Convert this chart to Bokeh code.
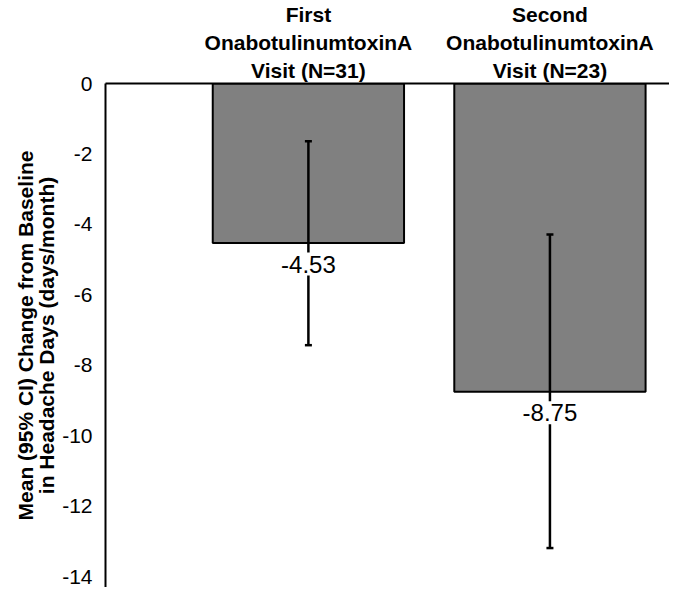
from bokeh.plotting import figure
from bokeh.models import Range1d, FixedTicker, LinearAxis, ColumnDataSource, Title
from bokeh.core.properties import value
from bokeh.embed import file_html
from bokeh.resources import INLINE

categories = ["First\nOnabotulinumtoxinA\nVisit (N=31)",
              "Second\nOnabotulinumtoxinA\nVisit (N=23)"]
means = [-4.53, -8.75]
ci_upper = [-1.64, -4.29]
ci_lower = [-7.43, -13.19]
mean_labels = ["-4.53", "-8.75"]
y_ticks = [0, -2, -4, -6, -8, -10, -12, -14]
y_tick_labels = ["0", "-2", "-4", "-6", "-8", "-10", "-12", "-14"]
y_title = "Mean (95% CI) Change from Baseline\nin Headache Days (days/month)"

xpos = [i + 1 for i in range(len(categories))]

src = ColumnDataSource(dict(x=xpos, top=[0] * len(means), bottom=means,
                            upper=ci_upper, lower=ci_lower, lab=mean_labels))

FONT = "Liberation Sans"

p = figure(width=669, height=587, output_backend="svg", toolbar_location=None,
           x_range=Range1d(0.16, 2.495), y_range=Range1d(-14.31, 0),
           x_axis_location=None, y_axis_location=None,
           min_border_left=98, min_border_top=75, min_border_right=0, min_border_bottom=0)
p.outline_line_color = None
p.xgrid.visible = False
p.ygrid.visible = False

p.vbar(x="x", top="top", bottom="bottom", width=0.792, source=src,
       fill_color="#808080", line_color="black", line_width=2)

# error bars
p.segment(x0="x", y0="lower", x1="x", y1="upper", source=src,
          line_color="black", line_width=2.5)
p.scatter(x="x", y="upper", source=src, marker="dash", size=7,
          line_color="black", line_width=2.5)
p.scatter(x="x", y="lower", source=src, marker="dash", size=7,
          line_color="black", line_width=2.5)

p.text(x="x", y="bottom", text="lab", source=src, y_offset=21,
       text_align="center", text_baseline="middle",
       text_font=value(FONT), text_font_size="24px", text_color="black",
       background_fill_color="white", padding=3)

ya = LinearAxis(ticker=FixedTicker(ticks=y_ticks),
                major_label_overrides={t: s for t, s in zip(y_ticks, y_tick_labels)})
ya.axis_line_color = "black"
ya.axis_line_width = 2
ya.major_tick_line_color = None
ya.minor_tick_line_color = None
ya.major_label_standoff = 7
ya.major_label_text_font = FONT
ya.major_label_text_font_size = "21px"
ya.major_label_text_color = "black"
ya.axis_label = y_title
ya.axis_label_text_font = FONT
ya.axis_label_text_font_size = "21px"
ya.axis_label_text_font_style = "bold"
ya.axis_label_text_color = "black"
ya.axis_label_text_line_height = 0.9
ya.axis_label_standoff = 1
p.add_layout(ya, "left")

# small blank spacer at the far left
p.add_layout(Title(text=" ", text_font_size="4px", standoff=4), "left")

xa = LinearAxis(ticker=FixedTicker(ticks=xpos),
                major_label_overrides={x: c for x, c in zip(xpos, categories)})
xa.axis_line_color = "black"
xa.axis_line_width = 2
xa.major_tick_line_color = None
xa.minor_tick_line_color = None
xa.major_label_standoff = -4
xa.major_label_text_font = FONT
xa.major_label_text_font_size = "21px"
xa.major_label_text_font_style = "bold"
xa.major_label_text_color = "black"
xa.major_label_text_line_height = 1.2
p.add_layout(xa, "above")

open("out.html", "w").write(file_html(p, INLINE))
